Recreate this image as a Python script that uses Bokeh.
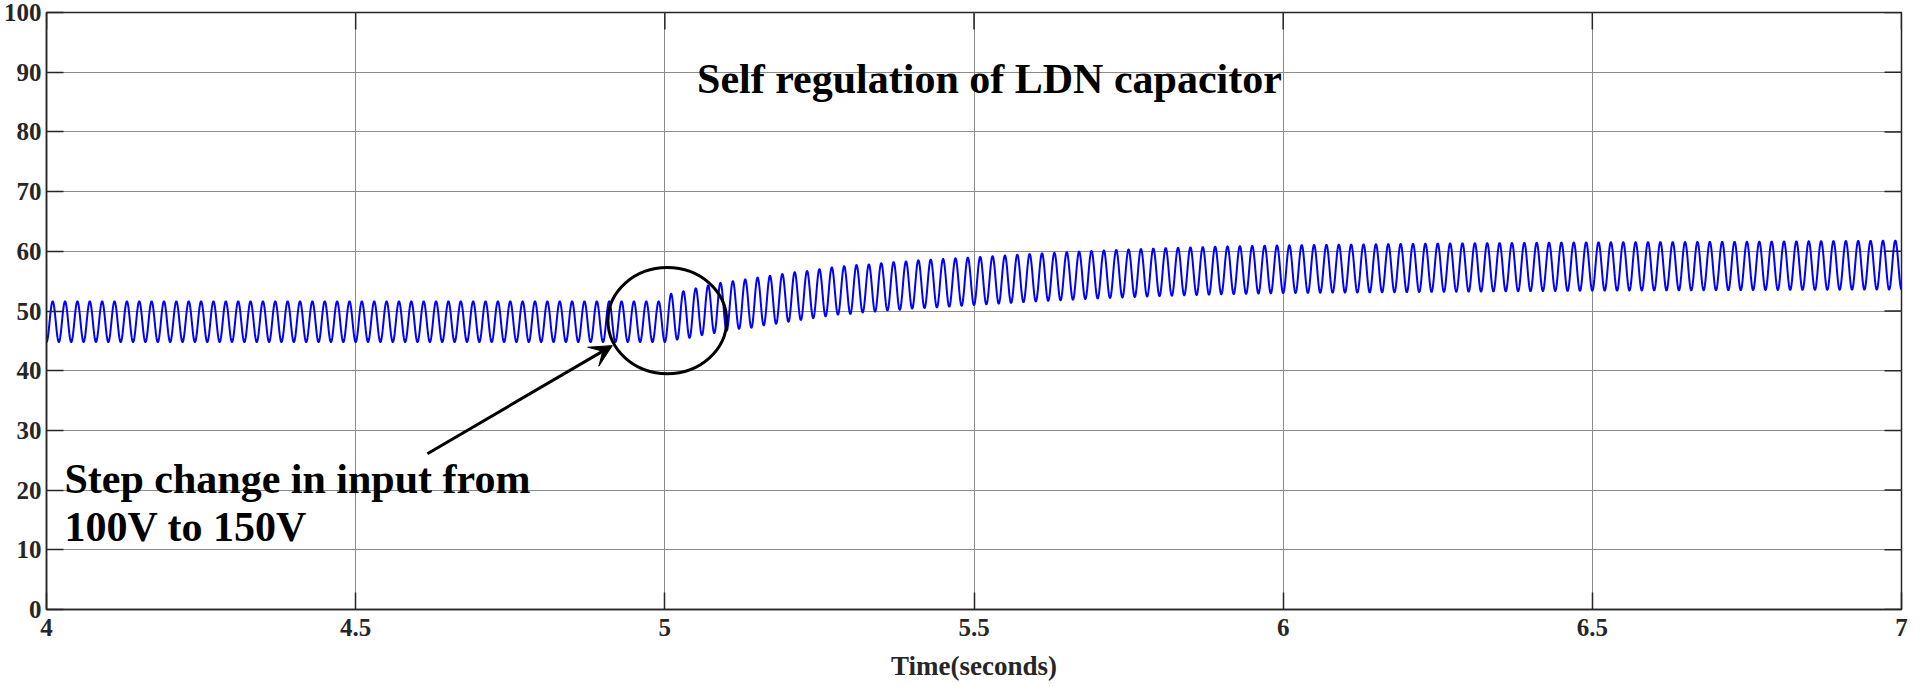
import numpy as np
from bokeh.plotting import figure
from bokeh.models import Label, Arrow, VeeHead, FixedTicker, Range1d
from bokeh.embed import file_html
from bokeh.resources import INLINE

# ---------------- data ----------------
x_ticks = [4, 4.5, 5, 5.5, 6, 6.5, 7]
x_tick_labels = ["4", "4.5", "5", "5.5", "6", "6.5", "7"]
y_ticks = [0, 10, 20, 30, 40, 50, 60, 70, 80, 90, 100]
y_tick_labels = ["0", "10", "20", "30", "40", "50", "60", "70", "80", "90", "100"]
x_min, x_max = 4, 7
y_min, y_max = 0, 100

# ripple frequency (Hz) counted from the picture (~25 cycles per 0.5 s)
ripple_freq = 50.0

# upper envelope (peaks) of the capacitor voltage
upper_t = [4.00, 5.00, 5.01, 5.03, 5.05, 5.07, 5.09, 5.11, 5.13, 5.15, 5.17, 5.19,
           5.21, 5.23, 5.25, 5.27, 5.29, 5.31, 5.33, 5.35, 5.37, 5.39, 5.41, 5.43,
           5.50, 5.60, 5.70, 5.80, 5.90, 6.00, 6.25, 6.50, 6.75, 7.00]
upper_v = [51.6, 51.6, 52.9, 53.3, 53.8, 54.3, 54.7, 55.0, 55.3, 55.6, 55.9, 56.2,
           56.5, 56.7, 57.0, 57.3, 57.5, 57.7, 57.8, 58.0, 58.2, 58.3, 58.5, 58.6,
           59.0, 59.6, 60.1, 60.5, 60.8, 61.0, 61.3, 61.5, 61.6, 61.8]

# lower envelope (troughs)
lower_t = [4.00, 5.00, 5.02, 5.04, 5.06, 5.08, 5.10, 5.12, 5.14, 5.16, 5.18, 5.20,
           5.22, 5.24, 5.26, 5.28, 5.30, 5.32, 5.34, 5.36, 5.38, 5.40, 5.42, 5.44,
           5.50, 5.60, 5.70, 5.80, 5.90, 6.00, 6.25, 6.50, 6.75, 7.00]
lower_v = [44.8, 44.8, 45.2, 45.5, 45.95, 46.3, 46.7, 47.0, 47.2, 47.6, 47.85, 48.2,
           48.5, 48.8, 49.1, 49.4, 49.5, 49.75, 49.9, 50.1, 50.2, 50.4, 50.5, 50.6,
           51.0, 51.6, 52.1, 52.5, 52.8, 53.0, 53.2, 53.4, 53.5, 53.6]

# annotation ellipse (data units)
ellipse_x = [5.004]
ellipse_y = [48.4]
ellipse_w = [0.192]
ellipse_h = [17.8]

title_text = "Self regulation of LDN capacitor"
note_lines = ["Step change in input from", "100V to 150V"]
x_label = "Time(seconds)"

# ---------------- build the waveform from the read envelopes ----------------
t = np.linspace(x_min, x_max, 12001)
up = np.interp(t, upper_t, upper_v)
lo = np.interp(t, lower_t, lower_v)
mid = (up + lo) / 2.0
half = (up - lo) / 2.0
v = mid - half * np.cos(2 * np.pi * ripple_freq * (t - x_min))

# ---------------- figure ----------------
FONT = "Liberation Serif"
DARK = "#262626"

p = figure(frame_width=1855, frame_height=597,
           x_range=Range1d(x_min, x_max), y_range=Range1d(y_min, y_max),
           output_backend="svg", toolbar_location=None,
           min_border_left=44, min_border_right=21, min_border_top=12, min_border_bottom=70,
           background_fill_color="white", border_fill_color="white")

p.outline_line_color = DARK
p.outline_line_width = 1.5

for g, tk in ((p.xgrid, x_ticks), (p.ygrid, y_ticks)):
    g.ticker = FixedTicker(ticks=tk)
    g.grid_line_color = "#8c8c8c"
    g.grid_line_width = 1


def style_axis(ax, ticks, labels):
    ax.ticker = FixedTicker(ticks=ticks)
    ax.major_tick_in = 17
    ax.major_tick_out = 0
    ax.minor_tick_in = 0
    ax.minor_tick_out = 0
    ax.major_tick_line_color = DARK
    ax.major_tick_line_width = 1.5
    ax.axis_line_color = DARK
    ax.axis_line_width = 1.5
    ax.major_label_overrides = {tk: lb for tk, lb in zip(ticks, labels)}
    ax.major_label_text_font = FONT
    ax.major_label_text_font_style = "bold"
    ax.major_label_text_color = DARK
    ax.major_label_text_font_size = "25px"


style_axis(p.xaxis[0], x_ticks, x_tick_labels)
p.xaxis[0].major_label_standoff = 9
p.xaxis[0].axis_label = x_label
p.xaxis[0].axis_label_text_font = FONT
p.xaxis[0].axis_label_text_font_style = "bold"
p.xaxis[0].axis_label_text_font_size = "27px"
p.xaxis[0].axis_label_text_color = DARK
p.xaxis[0].axis_label_standoff = 12

style_axis(p.yaxis[0], y_ticks, y_tick_labels)
p.yaxis[0].major_label_standoff = 5

# inward ticks on the top and right edges of the box
p.ray(x=x_ticks, y=[y_max] * len(x_ticks), length=17, length_units="screen",
      angle=-np.pi / 2, line_color=DARK, line_width=1.5)
p.ray(x=[x_max] * len(y_ticks), y=y_ticks, length=17, length_units="screen",
      angle=np.pi, line_color=DARK, line_width=1.5)

# waveform
p.line(t, v, line_color="#0000ff", line_width=2)

# ellipse marking the step
p.ellipse(x=ellipse_x, y=ellipse_y, width=ellipse_w, height=ellipse_h,
          fill_color=None, line_color="black", line_width=3)

# arrow
p.add_layout(Arrow(x_start=4.616, y_start=26.1, x_end=4.915, y_end=44.2,
                   line_color="black", line_width=3,
                   end=VeeHead(size=22, fill_color="black", line_color="black")))

# texts
lab_kw = dict(text_baseline="alphabetic", text_font=FONT, text_font_style="bold",
              text_font_size="42px", text_color="black")
p.add_layout(Label(x=5.525, y=88.85, text=title_text, text_align="center", **lab_kw))
p.add_layout(Label(x=4.029, y=21.9, text=note_lines[0], text_align="left", **lab_kw))
p.add_layout(Label(x=4.029, y=13.75, text=note_lines[1], text_align="left", **lab_kw))

open("out.html", "w").write(file_html(p, INLINE))
